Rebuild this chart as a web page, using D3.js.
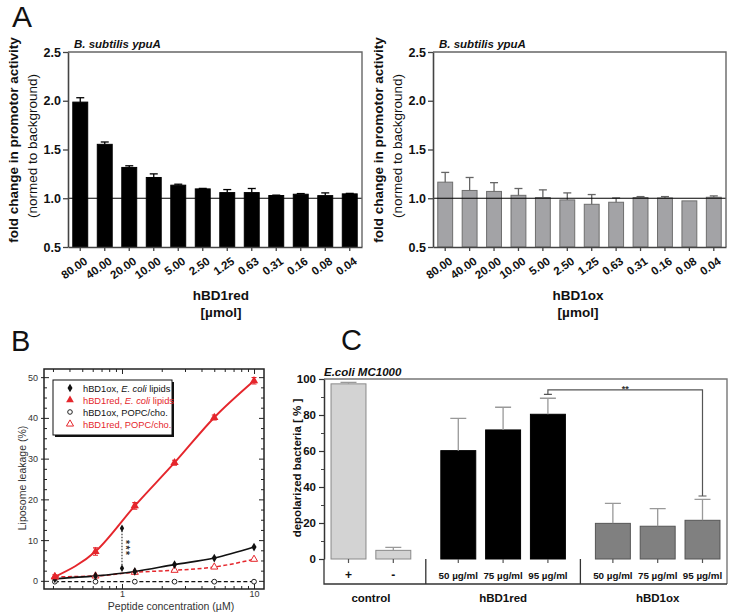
<!DOCTYPE html>
<html><head><meta charset="utf-8">
<script src="https://cdn.jsdelivr.net/npm/d3@7"></script>
<style>body{margin:0;background:#fff} svg{display:block;font-family:Arial,"Liberation Sans",sans-serif}</style>
</head><body><svg id="c" width="730" height="614"></svg>
<script>
// ---------- Panel A data ----------
const concLabels = ["80.00","40.00","20.00","10.00","5.00","2.50","1.25","0.63","0.31","0.16","0.08","0.04"];
const redMeans = [1.986,1.553,1.316,1.213,1.134,1.096,1.058,1.058,1.028,1.041,1.027,1.045];
const redErrs  = [0.045,0.024,0.017,0.037,0.010,0.005,0.031,0.042,0.004,0.007,0.028,0.005];
const oxMeans  = [1.165,1.080,1.070,1.030,1.007,0.983,0.938,0.959,1.007,1.003,0.973,1.010];
const oxErrs   = [0.100,0.133,0.090,0.070,0.079,0.072,0.100,0.044,0.010,0.014,0.000,0.014];
const aYTicks = [0.5,1.0,1.5,2.0,2.5];
const aTitle = "B. subtilis ypuA";

// ---------- Panel B data ----------
const peptideConc = [0.31,0.63,1.25,2.5,5,10];
const redEcoli    = [1.0,7.2,18.4,29.0,40.1,49.1];
const redEcoliErr = [0.5,0.9,0.8,0.6,0.6,0.8];
const oxEcoli     = [0.5,1.2,2.3,4.0,5.6,8.3];
const redPOPC     = [1.0,1.2,2.1,2.6,3.4,5.3];
const oxPOPC      = [-0.2,-0.2,-0.2,-0.2,-0.2,-0.2];
const sigB = {x:1, low:3.1, high:12.9, label:"***"};
const bYTicks = [0,10,20,30,40,50];
const bXTicks = [1,10];
const legendLabels = [
  {pre:"hBD1ox, ", it:"E. coli", post:" lipids"},
  {pre:"hBD1red, ", it:"E. coli", post:" lipids"},
  {pre:"hBD1ox, POPC/cho.", it:"", post:""},
  {pre:"hBD1red, POPC/cho.", it:"", post:""}
];

// ---------- Panel C data ----------
const cCats  = ["+","-","50 µg/ml","75 µg/ml","95 µg/ml","50 µg/ml","75 µg/ml","95 µg/ml"];
const cGroupOf = [0,0,1,1,1,2,2,2];
const cGroups = ["control","hBD1red","hBD1ox"];
const cMeans = [97.3,4.8,60.2,71.7,80.4,19.8,18.2,21.5];
const cErrs  = [0.8,1.7,17.9,12.6,8.9,11.1,9.8,11.6];
const cYTicks = [0,20,40,60,80,100];
const cTitle = "E.coli MC1000";
const sigC = {from:4, to:7, top:94, leftEnd:91.5, rightEnd:35, label:"**"};

const RED = "#e5262c";
const svg = d3.select("#c");
svg.append("rect").attr("width",730).attr("height",614).attr("fill","#fff");

// ================= Panel A =================
function panelA(cfg){
  const g = svg.append("g");
  const x = d3.scaleBand().domain(concLabels).range([cfg.left,cfg.right]).paddingInner(0.35).paddingOuter(0.175);
  const y = d3.scaleLinear().domain([0.5,2.5]).range([cfg.bottom,cfg.top]);
  const rows = cfg.means.map((m,i)=>({m, e:cfg.errs[i], c:concLabels[i]}));
  const cx = d => x(d.c)+x.bandwidth()/2;
  g.selectAll("rect.bar").data(rows).join("rect").attr("class","bar")
    .attr("x",d=>x(d.c)+0.5).attr("width",x.bandwidth()-1)
    .attr("y",d=>y(d.m)).attr("height",d=>y(0.5)-y(d.m))
    .attr("fill",cfg.fill).attr("stroke",cfg.stroke).attr("stroke-width",1);
  const eb = rows.filter(d=>d.e>0.002);
  g.selectAll("line.ev").data(eb).join("line")
    .attr("x1",cx).attr("x2",cx).attr("y1",d=>y(d.m)).attr("y2",d=>y(d.m+d.e))
    .attr("stroke",cfg.errColor).attr("stroke-width",1.3);
  g.selectAll("line.ec").data(eb).join("line")
    .attr("x1",d=>cx(d)-4).attr("x2",d=>cx(d)+4).attr("y1",d=>y(d.m+d.e)).attr("y2",d=>y(d.m+d.e))
    .attr("stroke",cfg.errColor).attr("stroke-width",1.3);
  // reference line at 1.0
  g.append("line").attr("x1",cfg.left).attr("x2",cfg.right).attr("y1",y(1)).attr("y2",y(1))
    .attr("stroke","#000").attr("stroke-width",1.2);
  // frame top / right
  g.append("path").attr("d",`M${cfg.left},${cfg.top}H${cfg.right}V${cfg.bottom}`)
    .attr("fill","none").attr("stroke","#666").attr("stroke-width",1.4);
  // y axis
  const ya = g.append("g").attr("transform",`translate(${cfg.left},0)`)
    .call(d3.axisLeft(y).tickValues(aYTicks).tickFormat(d3.format(".1f")).tickSize(5).tickSizeOuter(0).tickPadding(2));
  ya.select(".domain").attr("stroke","#444").attr("stroke-width",1.6);
  ya.selectAll(".tick line").attr("stroke","#444").attr("stroke-width",1.3);
  ya.selectAll("text").attr("font-size",12.5).attr("font-weight","bold").attr("fill","#111");
  // x axis
  const xa = g.append("g").attr("transform",`translate(0,${cfg.bottom})`)
    .call(d3.axisBottom(x).tickSize(4).tickSizeOuter(0));
  xa.select(".domain").attr("stroke","#444").attr("stroke-width",1.6);
  xa.selectAll(".tick line").attr("stroke","#444").attr("stroke-width",1.3);
  xa.selectAll("text").attr("font-size",11.5).attr("font-weight","bold").attr("fill","#111")
    .attr("x",0).attr("y",0).attr("dy",0).attr("text-anchor","end")
    .attr("transform","translate(8,16) rotate(-35)");
  // titles
  g.append("text").attr("x",cfg.left+6).attr("y",cfg.top-4).attr("font-size",11.5)
    .attr("font-weight","bold").attr("font-style","italic").attr("fill","#111").text(aTitle);
  g.append("text").attr("transform",`translate(${cfg.left-50},${cfg.top+88}) rotate(-90)`)
    .attr("text-anchor","middle").attr("font-size",13.5).attr("font-weight","bold").attr("fill","#111")
    .text("fold change in promotor activity");
  g.append("text").attr("transform",`translate(${cfg.left-31},${cfg.top+94}) rotate(-90)`)
    .attr("text-anchor","middle").attr("font-size",13.5).attr("fill","#111")
    .text("(normed to background)");
  g.append("text").attr("x",cfg.labelX).attr("y",cfg.bottom+53).attr("text-anchor","middle")
    .attr("font-size",13.5).attr("font-weight","bold").attr("fill","#111").text(cfg.xTitle);
  g.append("text").attr("x",cfg.labelX).attr("y",cfg.bottom+70).attr("text-anchor","middle")
    .attr("font-size",13.5).attr("font-weight","bold").attr("fill","#111").text("[µmol]");
}
panelA({left:68,right:362,top:52,bottom:247,means:redMeans,errs:redErrs,fill:"#000",stroke:"#000",errColor:"#000",xTitle:"hBD1red",labelX:221});
panelA({left:433,right:726,top:52,bottom:247,means:oxMeans,errs:oxErrs,fill:"#a3a3a6",stroke:"#6e6e6e",errColor:"#666",xTitle:"hBD1ox",labelX:578});
svg.append("text").attr("x",12).attr("y",27).attr("font-size",30).attr("fill","#111").text("A");

// ================= Panel B =================
(function(){
  const L=44,R=264,T=369,B=589;
  const g = svg.append("g");
  const x = d3.scaleLog().domain([0.2566,11.9]).range([L,R]);
  const y = d3.scaleLinear().domain([-2,52]).range([B,T]);
  const minorY = d3.range(-2.5,52,2.5).filter(v=>v>=-2 && v%10!==0);
  const minorX = [0.3,0.4,0.5,0.6,0.7,0.8,0.9,2,3,4,5,6,7,8,9];
  const tk = (sel)=>{sel.select(".domain").remove(); sel.selectAll(".tick line").attr("stroke","#222").attr("stroke-width",1);};
  // minor ticks (inward) on all sides
  g.append("g").attr("transform",`translate(${L},0)`).call(d3.axisLeft(y).tickValues(minorY).tickSize(-3).tickFormat("")).call(tk);
  g.append("g").attr("transform",`translate(${R},0)`).call(d3.axisRight(y).tickValues(minorY).tickSize(-3).tickFormat("")).call(tk);
  g.append("g").attr("transform",`translate(0,${B})`).call(d3.axisBottom(x).tickValues(minorX).tickSize(-3).tickFormat("")).call(tk);
  g.append("g").attr("transform",`translate(0,${T})`).call(d3.axisTop(x).tickValues(minorX).tickSize(-3).tickFormat("")).call(tk);
  // major ticks
  const yl = g.append("g").attr("transform",`translate(${L},0)`).call(d3.axisLeft(y).tickValues(bYTicks).tickSize(3).tickPadding(3)).call(tk);
  g.append("g").attr("transform",`translate(${L},0)`).call(d3.axisLeft(y).tickValues(bYTicks).tickSize(-5).tickFormat("")).call(tk);
  g.append("g").attr("transform",`translate(${R},0)`).call(d3.axisRight(y).tickValues(bYTicks).tickSize(-5).tickFormat("")).call(tk);
  const xl = g.append("g").attr("transform",`translate(0,${B})`).call(d3.axisBottom(x).tickValues(bXTicks).tickSize(0).tickPadding(1.5).tickFormat(d3.format("d"))).call(tk);
  g.append("g").attr("transform",`translate(0,${B})`).call(d3.axisBottom(x).tickValues(bXTicks).tickSize(-5).tickFormat("")).call(tk);
  g.append("g").attr("transform",`translate(0,${T})`).call(d3.axisTop(x).tickValues(bXTicks).tickSize(-5).tickFormat("")).call(tk);
  [yl,xl].forEach(a=>a.selectAll("text").attr("font-size",9).attr("fill","#333"));
  // frame
  g.append("rect").attr("x",L).attr("y",T).attr("width",R-L).attr("height",B-T)
    .attr("fill","none").attr("stroke","#222").attr("stroke-width",1.5);

  const pts = arr => arr.map((v,i)=>({x:peptideConc[i], y:v}));
  const line = d3.line().x(d=>x(d.x)).y(d=>y(d.y)).curve(d3.curveMonotoneX);
  g.append("path").attr("d",line(pts(oxPOPC))).attr("fill","none").attr("stroke","#111").attr("stroke-width",1.3).attr("stroke-dasharray","4,2.5");
  g.append("path").attr("d",line(pts(redPOPC))).attr("fill","none").attr("stroke",RED).attr("stroke-width",1.5).attr("stroke-dasharray","4,2.5");
  g.append("path").attr("d",line(pts(oxEcoli))).attr("fill","none").attr("stroke","#111").attr("stroke-width",1.7);
  g.append("path").attr("d",line(pts(redEcoli))).attr("fill","none").attr("stroke",RED).attr("stroke-width",1.9);

  // error bars red filled
  pts(redEcoli).forEach((d,i)=>{
    const e=redEcoliErr[i];
    g.append("path").attr("d",`M${x(d.x)},${y(d.y-e)}V${y(d.y+e)}M${x(d.x)-2.5},${y(d.y-e)}h5M${x(d.x)-2.5},${y(d.y+e)}h5`)
      .attr("stroke",RED).attr("stroke-width",1.1).attr("fill","none");
  });
  const sym = (type,size)=>d3.symbol().type(type).size(size)();
  // markers
  g.selectAll("circle.opc").data(pts(oxPOPC)).join("circle").attr("cx",d=>x(d.x)).attr("cy",d=>y(d.y)).attr("r",2.4)
    .attr("fill","#fff").attr("stroke","#222").attr("stroke-width",1);
  g.selectAll("path.rp").data(pts(redPOPC)).join("path").attr("d",sym(d3.symbolTriangle,22))
    .attr("transform",d=>`translate(${x(d.x)},${y(d.y)})`).attr("fill","#fff").attr("stroke",RED).attr("stroke-width",1);
  g.selectAll("path.oe").data(pts(oxEcoli)).join("path").attr("d",sym(d3.symbolDiamond,22))
    .attr("transform",d=>`translate(${x(d.x)},${y(d.y)})`).attr("fill","#111");
  g.selectAll("path.re").data(pts(redEcoli)).join("path").attr("d",sym(d3.symbolTriangle,30))
    .attr("transform",d=>`translate(${x(d.x)},${y(d.y)})`).attr("fill",RED);

  // significance at 1 µM
  g.append("line").attr("x1",x(sigB.x)).attr("x2",x(sigB.x)).attr("y1",y(sigB.low)).attr("y2",y(sigB.high))
    .attr("stroke","#111").attr("stroke-width",1).attr("stroke-dasharray","1.5,1.5");
  [sigB.low,sigB.high].forEach(v=>g.append("path").attr("d",sym(d3.symbolDiamond,16))
    .attr("transform",`translate(${x(sigB.x)},${y(v)})`).attr("fill","#111"));
  g.append("text").attr("transform",`translate(${x(sigB.x)}, ${y((sigB.low+sigB.high)/2)}) rotate(90)`)
    .attr("text-anchor","middle").attr("font-size",10.5).attr("font-weight","bold").attr("fill","#333")
    .attr("letter-spacing",1.5).text(sigB.label);

  // legend
  const lg = g.append("g").attr("transform","translate(53,380)");
  lg.append("rect").attr("x",2).attr("y",2).attr("width",119).attr("height",55).attr("fill","#111");
  lg.append("rect").attr("x",0).attr("y",0).attr("width",119).attr("height",55).attr("fill","#fff").attr("stroke","#111").attr("stroke-width",1);
  const lcol = ["#111",RED,"#111",RED];
  legendLabels.forEach((l,i)=>{
    const yy = 8+i*12;
    const t = lg.append("text").attr("x",30).attr("y",yy+3.5).attr("font-size",9.3).attr("fill",lcol[i]);
    t.append("tspan").text(l.pre);
    if(l.it) t.append("tspan").attr("font-style","italic").text(l.it);
    if(l.post) t.append("tspan").text(l.post);
  });
  lg.append("path").attr("d",sym(d3.symbolDiamond,22)).attr("transform","translate(17,8)").attr("fill","#111");
  lg.append("path").attr("d",sym(d3.symbolTriangle,26)).attr("transform","translate(17,20)").attr("fill",RED);
  lg.append("circle").attr("cx",17).attr("cy",32).attr("r",2.3).attr("fill","#fff").attr("stroke","#222");
  lg.append("path").attr("d",sym(d3.symbolTriangle,22)).attr("transform","translate(17,44)").attr("fill","#fff").attr("stroke",RED);

  // axis titles
  g.append("text").attr("transform",`translate(26,478) rotate(-90)`).attr("text-anchor","middle")
    .attr("font-size",10.5).attr("fill","#333").text("Liposome leakage (%)");
  g.append("text").attr("x",171).attr("y",610).attr("text-anchor","middle")
    .attr("font-size",10.5).attr("fill","#333").text("Peptide concentration (µM)");
  svg.append("text").attr("x",11).attr("y",351).attr("font-size",29).attr("fill","#111").text("B");
})();

// ================= Panel C =================
(function(){
  const L=324,R=727,T=379,B=559,TB=584;
  const g = svg.append("g");
  const y = d3.scaleLinear().domain([0,100]).range([B,T]);
  const GAP = 0.45;
  const slots = cCats.map((c,i)=>i+cGroupOf[i]*GAP);
  const x = d3.scaleLinear().domain([0,d3.max(slots)]).range([348.5,702.5]);
  const bw = (x(1)-x(0))*0.78;
  const fills = ["#d3d3d3","#000","#808080"];
  const strokes = ["#8a8a8a","#000","#555"];
  const rows = cMeans.map((m,i)=>({m,e:cErrs[i],s:slots[i],g:cGroupOf[i]}));
  g.selectAll("rect.bar").data(rows).join("rect")
    .attr("x",d=>x(d.s)-bw/2).attr("width",bw).attr("y",d=>y(d.m)).attr("height",d=>y(0)-y(d.m))
    .attr("fill",d=>fills[d.g]).attr("stroke",d=>strokes[d.g]).attr("stroke-width",1);
  g.selectAll("path.err").data(rows).join("path")
    .attr("d",d=>`M${x(d.s)},${y(d.m)}V${y(d.m+d.e)}M${x(d.s)-8},${y(d.m+d.e)}h16`)
    .attr("stroke","#999").attr("stroke-width",1.3).attr("fill","none");
  // frame
  g.append("path").attr("d",`M${L},${T}H${R}V${TB}`).attr("fill","none").attr("stroke","#777").attr("stroke-width",1.4);
  // table
  g.append("path").attr("d",`M${L},${B}V${TB}H${R}`).attr("fill","none").attr("stroke","#333").attr("stroke-width",1.3);
  [1,2].forEach(k=>{
    const lastPrev = rows.filter(r=>r.g===k-1).slice(-1)[0], firstNext = rows.find(r=>r.g===k);
    const xm = (x(lastPrev.s)+bw/2 + x(firstNext.s)-bw/2)/2;
    g.append("line").attr("x1",xm).attr("x2",xm).attr("y1",B).attr("y2",TB).attr("stroke","#333").attr("stroke-width",1.3);
  });
  g.selectAll("line.xt").data(rows).join("line").attr("x1",d=>x(d.s)).attr("x2",d=>x(d.s)).attr("y1",B).attr("y2",B+4)
    .attr("stroke","#555").attr("stroke-width",1.2);
  g.selectAll("text.cat").data(cCats).join("text").attr("x",(d,i)=>x(slots[i])).attr("y",579)
    .attr("text-anchor","middle").attr("font-size",(d,i)=>i<2?12:9.8).attr("font-weight","bold").attr("fill","#111").text(d=>d);
  cGroups.forEach((gname,k)=>{
    const ss = rows.filter(r=>r.g===k).map(r=>x(r.s));
    g.append("text").attr("x",d3.mean(ss)).attr("y",602).attr("text-anchor","middle")
      .attr("font-size",11.5).attr("font-weight","bold").attr("fill","#111").text(gname);
  });
  // y axis
  const ya = g.append("g").attr("transform",`translate(${L},0)`)
    .call(d3.axisLeft(y).tickValues(cYTicks).tickSize(5).tickSizeOuter(0).tickPadding(3));
  g.append("g").attr("transform",`translate(${L},0)`)
    .call(d3.axisLeft(y).tickValues(d3.range(10,100,20)).tickSize(3).tickFormat("")).call(s=>s.select(".domain").remove())
    .selectAll(".tick line").attr("stroke","#444");
  ya.select(".domain").attr("stroke","#333").attr("stroke-width",1.5);
  ya.selectAll(".tick line").attr("stroke","#333").attr("stroke-width",1.2);
  ya.selectAll("text").attr("font-size",11.5).attr("font-weight","bold").attr("fill","#111");
  // significance bracket
  const xl = x(slots[sigC.from]), xr = x(slots[sigC.to]);
  g.append("path").attr("d",`M${xl},${y(sigC.leftEnd)}V${y(sigC.top)}H${xr}V${y(sigC.rightEnd)}M${xl-4},${y(sigC.leftEnd)}h8M${xr-4},${y(sigC.rightEnd)}h8`)
    .attr("fill","none").attr("stroke","#555").attr("stroke-width",1.2);
  g.append("text").attr("x",(xl+xr)/2).attr("y",y(sigC.top)+2).attr("text-anchor","middle")
    .attr("font-size",9).attr("font-weight","bold").attr("fill","#333").text(sigC.label);
  // titles
  g.append("text").attr("x",L).attr("y",T-3).attr("font-size",11.5).attr("font-weight","bold").attr("font-style","italic")
    .attr("fill","#111").text(cTitle);
  g.append("text").attr("transform",`translate(301,468) rotate(-90)`).attr("text-anchor","middle")
    .attr("font-size",11.5).attr("font-weight","bold").attr("fill","#111").text("depolarized bacteria [ % ]");
  svg.append("text").attr("x",341).attr("y",350).attr("font-size",29).attr("fill","#111").text("C");
})();
</script></body></html>
